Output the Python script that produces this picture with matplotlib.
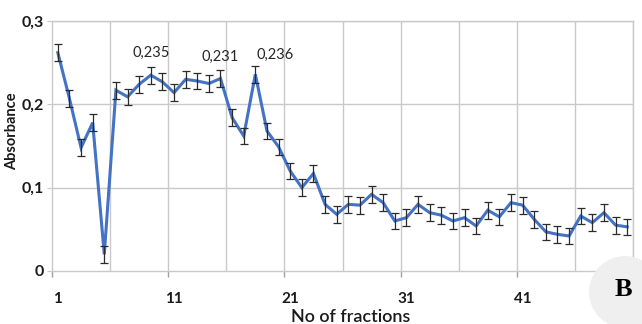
import matplotlib
matplotlib.use("Agg")
import matplotlib.pyplot as plt
from matplotlib.patches import Ellipse
import numpy as np

# ---- data ----
fractions = list(range(1, 51))
absorbance = [0.262, 0.207, 0.148, 0.178, 0.020, 0.217, 0.209, 0.224, 0.235, 0.227,
              0.214, 0.230, 0.228, 0.225, 0.231, 0.184, 0.162, 0.236, 0.168, 0.149,
              0.120, 0.100, 0.117, 0.080, 0.068, 0.080, 0.079, 0.092, 0.082, 0.060,
              0.064, 0.080, 0.070, 0.067, 0.060, 0.064, 0.054, 0.073, 0.065, 0.082,
              0.079, 0.062, 0.047, 0.044, 0.042, 0.066, 0.058, 0.070, 0.055, 0.053]
errors = [0.010] * 50
x_tick_values = [1, 11, 21, 31, 41]
x_tick_labels = ["1", "11", "21", "31", "41"]
y_tick_values = [0, 0.1, 0.2, 0.3]
y_tick_labels = ["0", "0,1", "0,2", "0,3"]
annotated_points = [9, 15, 18]
annotation_texts = ["0,235", "0,231", "0,236"]
annotation_offsets = [(0, 22), (0, 22), (20, 19)]

FONT = ["Lato", "DejaVu Sans"]
plt.rcParams["font.family"] = FONT

W, H = 642, 324
fig = plt.figure(figsize=(W / 100, H / 100), dpi=100)
ax = fig.add_axes([52 / W, 1 - 271 / H, 581 / W, 250 / H])

grid_c = "#c9c9c9"
# grid
for gx in np.arange(5.5, 51, 5):
    ax.axvline(gx, color=grid_c, lw=1.0, zorder=0)
for gy in [0.1, 0.2, 0.3]:
    ax.axhline(gy, color=grid_c, lw=1.0, zorder=0)

ax.plot(fractions, absorbance, color="#4472C4", lw=2.2, zorder=2, solid_joinstyle="miter")
ax.errorbar(fractions, absorbance, yerr=errors, fmt="none", ecolor="#2b2b2b",
            elinewidth=0.9, capsize=2.6, capthick=0.9, zorder=3)

for p, t, off in zip(annotated_points, annotation_texts, annotation_offsets):
    ax.annotate(t, (p, absorbance[p - 1]), xytext=off, textcoords="offset pixels",
                ha="center", va="center", fontsize=10.5, color="#262626")

ax.set_xlim(0.5, 50.5)
ax.set_ylim(0, 0.3)

for s in ax.spines.values():
    s.set_color(grid_c)
    s.set_linewidth(1.0)

ax.set_xticks(x_tick_values)
ax.set_xticklabels(x_tick_labels, fontweight="bold", fontsize=11, color="#1a1a1a")
ax.set_xticks(np.arange(0.5, 51, 10), minor=True)
ax.tick_params(axis="x", which="major", length=0, pad=15)
ax.tick_params(axis="x", which="minor", length=4, color="#a0a0a0", width=1)

ax.set_yticks(y_tick_values)
ax.set_yticklabels(y_tick_labels, fontweight="bold", fontsize=11.5, color="#1a1a1a")
ax.tick_params(axis="y", length=3.5, color=grid_c, pad=2)

fig.text(12 / W, 1 - 131 / H, "Absorbance", rotation=90, ha="center", va="center",
         fontsize=10.5, fontweight="bold", color="#1a1a1a")
fig.text(351 / W, 1 - 317 / H, "No of fractions", ha="center", va="center",
         fontsize=13, fontweight="semibold", color="#1a1a1a")

circ = Ellipse((625 / W, 1 - 292 / H), 2 * 36 / W, 2 * 36 / H, transform=fig.transFigure,
               facecolor="#efefef", edgecolor="none", zorder=5)
fig.add_artist(circ)
fig.text(623 / W, 1 - 289 / H, "B", ha="center", va="center", fontsize=19,
         fontweight="bold", family=["Liberation Serif", "DejaVu Serif"], zorder=6)

fig.savefig("out.png", dpi=100)
